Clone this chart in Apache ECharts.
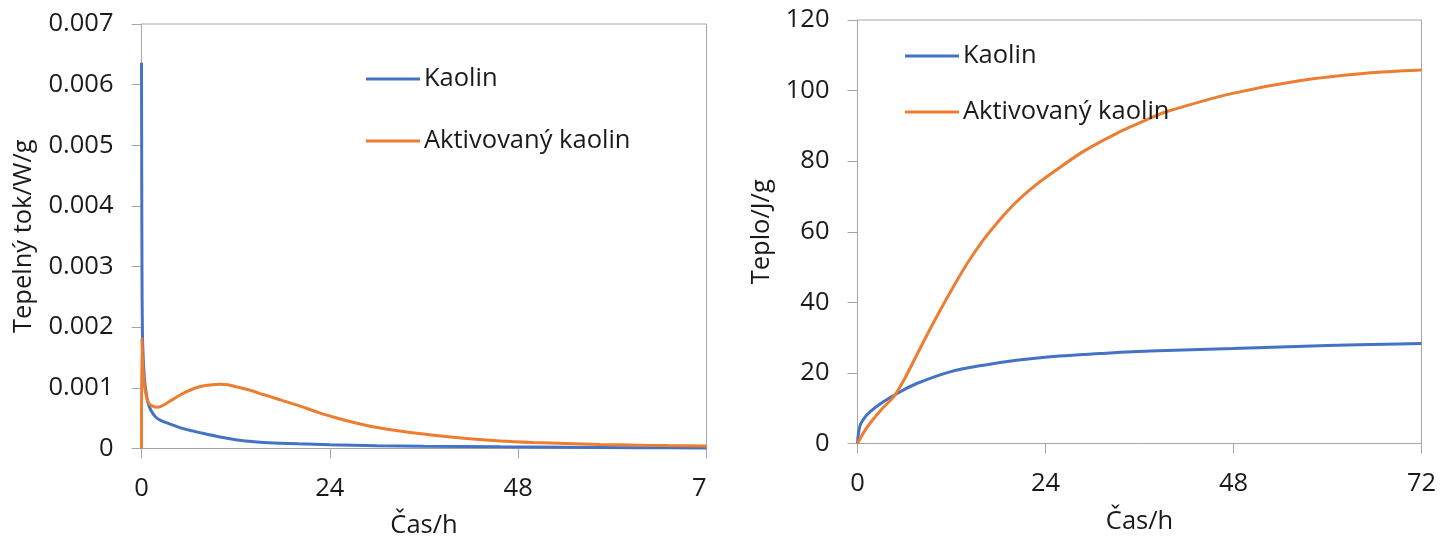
<!DOCTYPE html>
<html>
<head>
<meta charset="utf-8">
<script src="https://cdn.jsdelivr.net/npm/echarts@6/dist/echarts.min.js"></script>
<style>
html,body{margin:0;padding:0;background:#fff;}
#wrap{position:relative;width:1452px;height:543px;overflow:hidden;}
#left{position:absolute;left:0;top:0;width:707px;height:543px;}
#right{position:absolute;left:707px;top:0;width:745px;height:543px;}
</style>
</head>
<body>
<div id="wrap"><div id="left"></div><div id="right"></div></div>
<script>
// ---- data ----
const seriesNames = ['Kaolin', 'Aktivovaný kaolin'];
const xTicks = [0, 24, 48, 72];

// Heat flow (W/g) vs time (h)
const flowKaolin = [
  [0,0.00636],[0.03,0.0045],[0.06,0.003],[0.12,0.0019],[0.25,0.0014],[0.4,0.0011],
  [0.55,0.00096],[0.8,0.00077],[1.2,0.00063],[1.8,0.00052],[2.5,0.00046],[3.5,0.00041],
  [5,0.00034],[6.5,0.00029],[7.8,0.00025],[10,0.00019],[12,0.000145],[14,0.000115],
  [16.2,0.000095],[20,0.000077],[24,0.000063],[30,0.000047],[36,0.000037],[45.7,0.000027],
  [54,0.00002],[63,0.000014],[72,0.00001]
];
const flowActivated = [
  [0,0],[0.04,0.00182],[0.15,0.0014],[0.3,0.00112],[0.46,0.00096],[0.7,0.00082],
  [0.97,0.00074],[1.4,0.0007],[2.0,0.00068],[2.7,0.00071],[3.5,0.00077],[4.5,0.00085],
  [5.6,0.00093],[6.7,0.00099],[7.8,0.00103],[9,0.00105],[9.9,0.00106],[11,0.00105],
  [12,0.00102],[13,0.00099],[14,0.000955],[15,0.00091],[16.3,0.00086],[18,0.00079],
  [20.2,0.0007],[22.2,0.00061],[24.4,0.00052],[28.7,0.00038],[32.9,0.00029],
  [37.2,0.00022],[41.4,0.000165],[45.7,0.000125],[49.9,0.0001],[54.2,0.000083],
  [58.4,0.000068],[62.6,0.000056],[67,0.000048],[72,0.000043]
];

// Heat (J/g) vs time (h)
const heatKaolin = [
  [0,0],[0.1,2.5],[0.34,5.2],[0.8,7],[1.62,9],[3.3,11.8],[5.4,14.6],[7.57,17],
  [11.8,20.3],[16.1,22.2],[20.3,23.6],[24.6,24.6],[28.8,25.2],[30.9,25.5],[37.3,26.2],
  [47.9,26.9],[56,27.5],[64,28],[72,28.3]
];
const heatActivated = [
  [0,0],[0.76,3.0],[1.62,5.8],[3,9.5],[4.6,13.2],[6,18.3],[8,27],[10,35.5],[12,43.5],
  [14,51],[16,57.5],[18,63],[20.3,68.5],[22.5,72.8],[24.6,76.3],[28.8,82.7],[33.1,87.9],
  [37.3,92.1],[39.4,94],[47.9,99.2],[56.4,102.8],[64.9,104.9],[72,105.8]
];

const colors = ['#4472C4', '#ED7D31'];
const FONT = 'Open Sans';
const FS = 25.5;
const TXT = '#1a1a1a';
const AX = '#a6a6a6';

function xAxisCfg(nameGap, margin) {
  return {
    type: 'value', min: 0, max: 72, interval: 24,
    name: 'Čas/h', nameLocation: 'middle', nameGap: nameGap,
    nameTextStyle: {fontFamily: FONT, fontSize: FS, color: TXT},
    axisLine: {show: true, lineStyle: {color: AX, width: 1}},
    axisTick: {show: true, length: 10, lineStyle: {color: AX}},
    axisLabel: {fontFamily: FONT, fontSize: FS, color: TXT, margin: margin, showMaxLabel: true, showMinLabel: true, hideOverlap: false},
    splitLine: {show: false}
  };
}
function yAxisCfg(name, max, interval, nameGap, fmt) {
  return {
    type: 'value', min: 0, max: max, interval: interval,
    name: name, nameLocation: 'middle', nameGap: nameGap,
    nameTextStyle: {fontFamily: FONT, fontSize: FS, color: TXT},
    axisLine: {show: true, lineStyle: {color: AX, width: 1}},
    axisTick: {show: true, length: 10, lineStyle: {color: AX}},
    axisLabel: {fontFamily: FONT, fontSize: FS, color: TXT, margin: 28, formatter: fmt},
    splitLine: {show: false}
  };
}
function legendCfg(left, top, gap) {
  return {
    orient: 'vertical', left: left, top: top, itemGap: gap, padding: 0,
    icon: 'rect', itemWidth: 54, itemHeight: 3,
    textStyle: {fontFamily: FONT, fontSize: FS, color: TXT, padding: [0,0,0,-1]},
    data: seriesNames
  };
}
function lineSeries(name, data, color) {
  return {
    name: name, type: 'line', data: data, showSymbol: false, symbol: 'none',
    smooth: 0.3,
    lineStyle: {color: color, width: 3}, itemStyle: {color: color},
    animation: false
  };
}

const left = echarts.init(document.getElementById('left'));
left.setOption({
  animation: false,
  color: colors,
  grid: {left: 141.5, right: 0.5, top: 24, bottom: 94.5, show: true, borderColor: AX, borderWidth: 1,
         containLabel: false, outerBoundsMode: 'none'},
  legend: legendCfg(366, 66, 36),
  xAxis: xAxisCfg(64, 27),
  yAxis: yAxisCfg('Tepelný tok/W/g', 0.007, 0.001, 105, v => v === 0 ? '0' : v.toFixed(3)),
  series: [
    lineSeries(seriesNames[0], flowKaolin, colors[0]),
    lineSeries(seriesNames[1], flowActivated, colors[1])
  ]
});

const right = echarts.init(document.getElementById('right'));
right.setOption({
  animation: false,
  color: colors,
  grid: {left: 150.5, right: 30.5, top: 20, bottom: 99.5, show: true, borderColor: AX, borderWidth: 1,
         containLabel: false, outerBoundsMode: 'none'},
  legend: legendCfg(198, 43, 30),
  xAxis: xAxisCfg(65, 27),
  yAxis: yAxisCfg('Teplo/J/g', 120, 20, 81, v => String(v)),
  series: [
    lineSeries(seriesNames[0], heatKaolin, colors[0]),
    lineSeries(seriesNames[1], heatActivated, colors[1])
  ]
});
</script>
</body>
</html>
